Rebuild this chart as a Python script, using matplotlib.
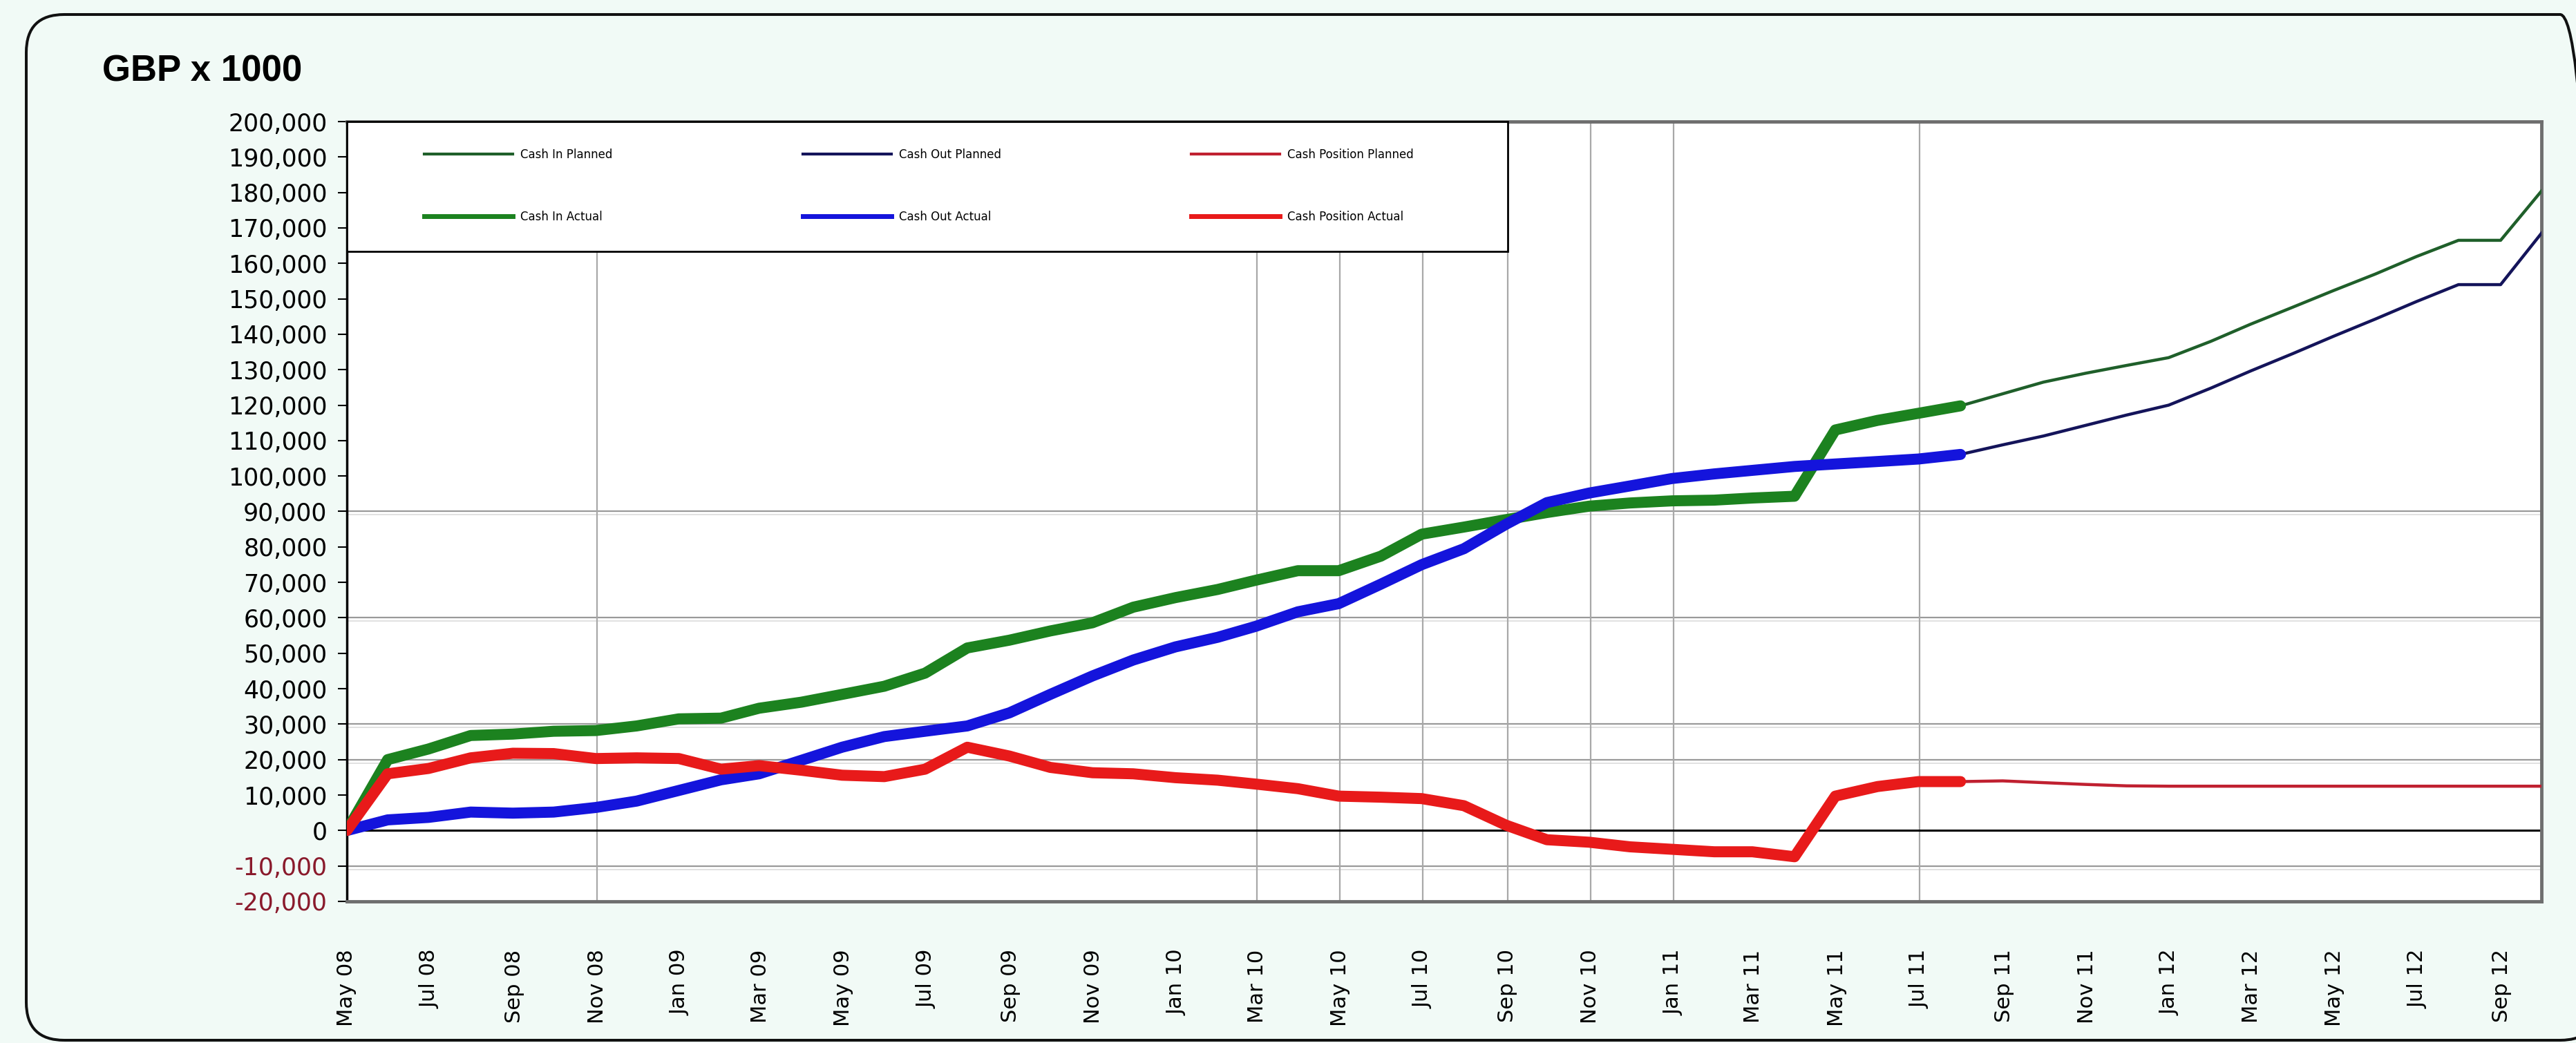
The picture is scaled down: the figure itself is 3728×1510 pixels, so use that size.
import pandas as pd
import matplotlib
matplotlib.use('Agg')
import matplotlib.pyplot as plt
from matplotlib.lines import Line2D
from matplotlib.patches import FancyBboxPatch, Rectangle
from matplotlib.transforms import IdentityTransform, ScaledTranslation

# Actual figures: the start of the project, then one value per month end
# (May 08 .. Jul 11).
cash_in_actual = [0, 20000, 23000, 26800, 27200, 28000, 28200, 29500, 31500, 31700,
                  34500, 36200, 38400, 40700, 44400, 51500, 53700, 56300, 58600, 63000,
                  65700, 68000, 70600, 73300, 73300, 77400, 83600, 85600, 87700, 89700,
                  91500, 92400, 93000, 93200, 93800, 94300, 113000, 115700, 117700, 119800]
cash_out_actual = [0, 3000, 3700, 5200, 4900, 5200, 6500, 8300, 11300, 14300,
                   16000, 19800, 23500, 26500, 28000, 29500, 33200, 38400, 43600, 48100,
                   51800, 54500, 57600, 61700, 64000, 69500, 75000, 79500, 86400, 92500,
                   95200, 97200, 99300, 100600, 101600, 102700, 103400, 104100, 104800, 106100]
cash_pos_actual = [0, 16000, 17500, 20500, 21800, 21700, 20300, 20500, 20300, 17300,
                   18300, 17000, 15600, 15200, 17300, 23500, 21000, 17800, 16300, 16000,
                   14900, 14200, 13100, 11800, 9700, 9400, 9000, 7000, 1500, -2600,
                   -3300, -4600, -5300, -6000, -6000, -7400, 9700, 12400, 13800, 13800]

# Planned figures, one value per month end (Jul 11 .. Sep 12)
cash_in_planned = [119800, 123200, 126500, 129000, 131200, 133400, 138000, 142800,
                   147600, 152300, 157000, 161900, 166500, 166500, 180400]
cash_out_planned = [106100, 108800, 111300, 114300, 117200, 120000, 124800, 129600,
                    134500, 139400, 144300, 149200, 154000, 154000, 168500]
cash_pos_planned = [13800, 14000, 13500, 13000, 12600, 12500, 12500, 12500,
                    12500, 12500, 12500, 12500, 12500, 12500, 12500]

actual_dates = [pd.Timestamp('2008-05-01')] + list(pd.date_range('2008-05-31', periods=39, freq='ME'))
planned_dates = list(pd.date_range('2011-07-31', periods=15, freq='ME'))

tick_dates = list(pd.date_range('2008-05-01', '2012-09-01', freq='2MS'))
tick_labels = [d.strftime('%b %y') for d in tick_dates]
vgrid_dates = pd.to_datetime(['2008-11-01', '2010-03-01', '2010-05-01', '2010-07-01',
                              '2010-09-01', '2010-11-01', '2011-01-01', '2011-07-01'])
hgrid_values = [-10000, 20000, 30000, 60000, 90000]
yticks = list(range(-20000, 200001, 10000))

labels = ['Cash In Planned', 'Cash In Actual', 'Cash Out Planned',
          'Cash Out Actual', 'Cash Position Planned', 'Cash Position Actual']

green_act, green_plan = '#1c821f', '#1f5f2a'
blue_act, blue_plan = '#1414dc', '#14145a'
red_act, red_plan = '#e81a1a', '#c02030'

W, H = 3728, 1510
fig = plt.figure(figsize=(W / 100, H / 100), dpi=100)
fig.patch.set_facecolor('#f1faf6')

# rounded outer frame, in pixels
frame = FancyBboxPatch((38, H - 1506), 3760 - 38, 1506 - 21,
                       boxstyle='round,pad=0,rounding_size=55',
                       transform=IdentityTransform(), facecolor='none',
                       edgecolor='#111111', linewidth=2.9)
fig.add_artist(frame)

# plot area in pixels: x 502..3678, y 176..1305
L, R, T, B = 502, 3678, 176, 1305
ax = fig.add_axes([L / W, 1 - B / H, (R - L) / W, (B - T) / H])
ax.set_facecolor('white')

# grid lines have a faint second line just under them
shadow = ax.get_yaxis_transform() + ScaledTranslation(0, -5 / 100, fig.dpi_scale_trans)
for v in hgrid_values:
    ax.axhline(v, color='#9a9a9a', lw=1.6, zorder=1)
    ax.plot([0, 1], [v, v], color='#dcdcdc', lw=1.2, zorder=1, transform=shadow)
for d in vgrid_dates:
    ax.axvline(d, color='#a8a8a8', lw=1.6, zorder=1)
ax.axhline(0, color='black', lw=2.2, zorder=2)

# planned (thin) lines
ax.plot(planned_dates, cash_in_planned, color=green_plan, lw=3.2, zorder=3)
ax.plot(planned_dates, cash_out_planned, color=blue_plan, lw=3.2, zorder=3)
ax.plot(planned_dates, cash_pos_planned, color=red_plan, lw=3.2, zorder=3)

# actual (thick) lines
for vals, col in [(cash_in_actual, green_act), (cash_out_actual, blue_act),
                  (cash_pos_actual, red_act)]:
    ax.plot(actual_dates, vals, color=col, lw=11.5, zorder=3,
            solid_capstyle='round', solid_joinstyle='round')

ax.set_xlim(pd.Timestamp('2008-05-01'), pd.Timestamp('2012-09-30'))
ax.set_ylim(-20000, 200000)

ax.set_yticks(yticks, labels=[f'{v:,}' for v in yticks])
for t, v in zip(ax.get_yticklabels(), yticks):
    t.set_color('#8a1a2c' if v < 0 else 'black')
ax.tick_params(axis='y', direction='out', length=9.5, width=1.5, pad=11,
               labelsize=25)

ax.set_xticks(tick_dates, labels=tick_labels, rotation=90)
ax.tick_params(axis='x', length=0, pad=50, labelsize=22)
for t in ax.get_xticklabels():
    t.set_va('top')

for s in ['top', 'right', 'bottom']:
    ax.spines[s].set_color('#6e6e6e')
    ax.spines[s].set_linewidth(3.5)
ax.spines['left'].set_color('black')
ax.spines['left'].set_linewidth(2.5)

# legend box across the top-left of the plot
box_w = (2182 - L) / (R - L)
box_y = (B - 364) / (B - T)
ax.add_patch(Rectangle((0, box_y), box_w, 1 - box_y, transform=ax.transAxes,
                       facecolor='white', edgecolor='black', lw=2, zorder=4,
                       clip_on=False))

handles = [Line2D([], [], color=green_plan, lw=3), Line2D([], [], color=green_act, lw=5),
           Line2D([], [], color=blue_plan, lw=3), Line2D([], [], color=blue_act, lw=5),
           Line2D([], [], color=red_plan, lw=3), Line2D([], [], color=red_act, lw=5)]
leg = ax.legend(handles, labels, ncol=3, loc='upper left',
                bbox_to_anchor=((614 - L) / (R - L), (B - 215) / (B - T)),
                frameon=False, fontsize=12, borderaxespad=0, borderpad=0,
                handlelength=7.7, handletextpad=0.66, columnspacing=16.5,
                labelspacing=4.3)
leg.set_zorder(5)

fig.text(148 / W, 1 - 104 / H, 'GBP x 1000', fontsize=38, fontweight='bold',
         family='Liberation Sans', ha='left', va='center')

fig.savefig('out.png', dpi=100, facecolor=fig.get_facecolor())
